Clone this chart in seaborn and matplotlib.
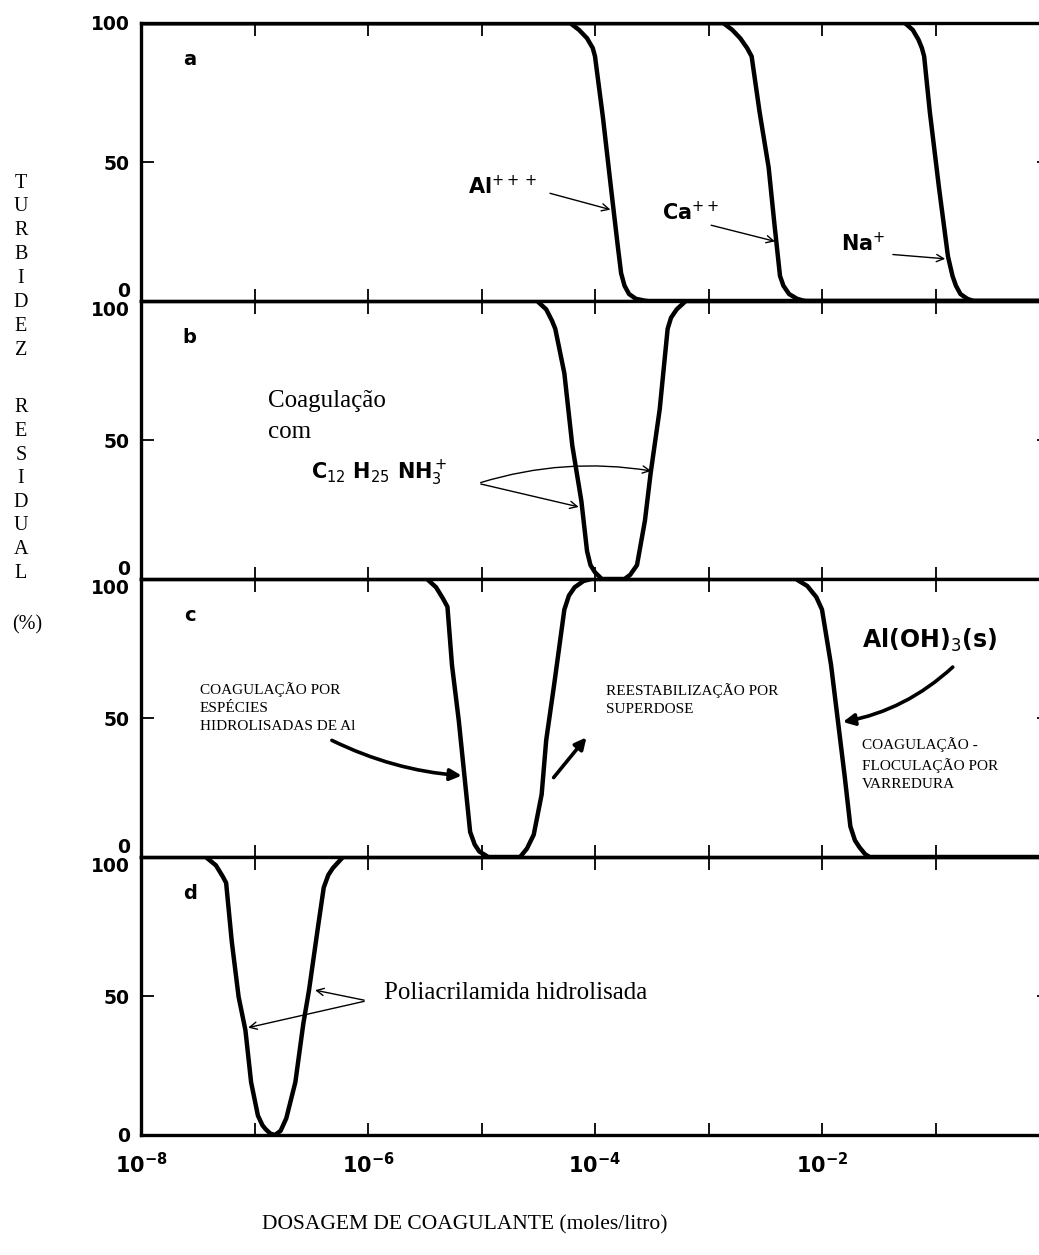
import numpy as np
import pandas as pd
import matplotlib
matplotlib.use("Agg")
import matplotlib.pyplot as plt
from matplotlib.ticker import FixedLocator, NullLocator
import seaborn as sns

# ---------------- data: log10(dose, mol/L) and residual turbidity (%) ----------------
# panel a
al_logx = [-8.0, -4.22, -4.14, -4.07, -4.02, -4.00, -3.93, -3.86, -3.80, -3.77, -3.74, -3.70, -3.64, -3.57, -3.53, 0.0]
al_y    = [100, 100, 97.5, 94.5, 91, 88, 66, 41, 20, 10, 5.5, 2.5, 0.8, 0.2, 0, 0]
ca_logx = [-8.0, -2.87, -2.79, -2.72, -2.66, -2.62, -2.55, -2.47, -2.42, -2.37, -2.34, -2.29, -2.22, -2.17, -2.14, 0.0]
ca_y    = [100, 100, 97.5, 94.5, 91, 88, 68, 48, 28, 9, 5.5, 2.5, 0.8, 0.2, 0, 0]
na_logx = [-8.0, -1.27, -1.20, -1.15, -1.12, -1.10, -1.05, -0.97, -0.89, -0.85, -0.82, -0.78, -0.72, -0.68, -0.66, 0.0]
na_y    = [100, 100, 97.5, 94, 91, 88, 68, 41, 16, 9, 5.5, 2.5, 0.8, 0.2, 0, 0]
# panel b
amine_logx = [-8.0, -4.51, -4.43, -4.38, -4.35, -4.27, -4.20, -4.12, -4.07, -4.04, -4.00, -3.94,
              -3.74, -3.69, -3.63, -3.56, -3.51, -3.43, -3.36, -3.33, -3.28, -3.20, 0.0]
amine_y    = [100, 100, 97, 93, 90, 74, 48, 28, 10, 5, 2.4, 0,
              0, 1.5, 5, 21, 38, 61, 90, 94, 97, 100, 100]
# panel c
aloh_logx = [-8.0, -5.48, -5.40, -5.34, -5.30, -5.26, -5.20, -5.15, -5.10, -5.06, -5.02, -4.94,
             -4.66, -4.60, -4.54, -4.47, -4.43, -4.36, -4.27, -4.23, -4.18, -4.10, -4.03,
             -2.23, -2.13, -2.05, -2.00, -1.92, -1.86, -1.80, -1.75, -1.71, -1.67, -1.62, -1.58, 0.0]
aloh_y    = [100, 100, 97, 93, 90, 69, 49, 29, 9, 4.5, 2, 0,
             0, 3, 8, 22.5, 42, 62, 89, 94, 97, 99.3, 100,
             100, 97.5, 93.5, 89, 69, 49, 29, 11, 6, 3.5, 1, 0, 0]
# panel d
poly_logx = [-8.0, -7.43, -7.34, -7.28, -7.25, -7.20, -7.14, -7.08, -7.03, -6.97, -6.93, -6.90, -6.86, -6.82,
             -6.77, -6.72, -6.64, -6.57, -6.52, -6.44, -6.39, -6.35, -6.31, -6.22, 0.0]
poly_y    = [100, 100, 97, 93, 90.7, 69.5, 49.7, 37.7, 19, 7, 3.5, 2, 0.5, 0,
             1.5, 6, 19, 40, 52, 75, 89, 93.5, 96, 100, 100]

xtick_exponents = [-8, -7, -6, -5, -4, -3, -2, -1, 0]
xtick_labels = [r"$\mathbf{10^{-8}}$", "", r"$\mathbf{10^{-6}}$", "", r"$\mathbf{10^{-4}}$", "",
                r"$\mathbf{10^{-2}}$", "", ""]
ytick_values = [0, 50, 100]
ytick_labels = ["0", "50", "100"]
panel_letters = ["a", "b", "c", "d"]
ylabel_word1 = list("TURBIDEZ")
ylabel_word2 = list("RESIDUAL")
ylabel_word3 = "(%)"
xlabel_text = "DOSAGEM DE COAGULANTE (moles/litro)"

def frame(logx, y, name):
    return pd.DataFrame({"dose": 10.0 ** np.asarray(logx, float), "turb": y, "curve": name})

panels = [
    [frame(al_logx, al_y, "Al"), frame(ca_logx, ca_y, "Ca"), frame(na_logx, na_y, "Na")],
    [frame(amine_logx, amine_y, "amine")],
    [frame(aloh_logx, aloh_y, "AlOH3")],
    [frame(poly_logx, poly_y, "poly")],
]

# ---------------- figure ----------------
sns.set_theme(style="ticks")
plt.rcParams["font.family"] = ["DejaVu Sans"]
plt.rcParams["mathtext.fontset"] = "dejavusans"
for k in ["text.color", "xtick.color", "ytick.color", "axes.edgecolor", "axes.labelcolor"]:
    plt.rcParams[k] = "black"

W, H = 1039, 1255
fig = plt.figure(figsize=(W / 100, H / 100), dpi=100)
gs = fig.add_gridspec(4, 1, left=141 / W, right=1049 / W, top=1 - 23 / H, bottom=1 - 1135 / H, hspace=0)
axes = [fig.add_subplot(gs[i]) for i in range(4)]

def X(e):
    return 10.0 ** e

serif = "Liberation Serif"
for i, ax in enumerate(axes):
    for df in panels[i]:
        sns.lineplot(data=df, x="dose", y="turb", ax=ax, color="black", lw=3.2,
                     estimator=None, sort=False, legend=False)
    ax.set_xscale("log")
    ax.set_xlim(X(-8), X(0))
    ax.set_ylim(0, 100)
    ax.xaxis.set_major_locator(FixedLocator([X(e) for e in xtick_exponents]))
    ax.xaxis.set_minor_locator(NullLocator())
    ax.set_yticks(ytick_values)
    ax.set_yticklabels(ytick_labels, fontsize=13.5, fontweight="bold")
    ax.tick_params(axis="both", which="both", direction="in", top=True, right=True,
                   length=9, width=1.3, color="black", pad=8)
    ax.tick_params(axis="x", pad=12)
    for s in ax.spines.values():
        s.set_linewidth(2.4)
        s.set_color("black")
    ax.set_xlabel("")
    ax.set_ylabel("")
    if i < 3:
        ax.tick_params(labelbottom=False)
    else:
        ax.set_xticklabels(xtick_labels, fontsize=15)
    ticks = ax.yaxis.get_major_ticks()
    if i < 3:
        ticks[0].label1.set_va("bottom")
    if i > 0:
        ticks[2].label1.set_va("top")
    ax.text(X(-7.57), 87, panel_letters[i], fontsize=14, fontweight="bold", ha="center", va="center")

thin = dict(arrowstyle="->", lw=1.0, color="black", mutation_scale=13)
thick = dict(arrowstyle="-|>", lw=2.6, color="black", mutation_scale=17)

# panel a annotations
ax = axes[0]
ax.text(X(-5.12), 38.5, r"Al$^{+++}$", fontsize=15, fontweight="bold", ha="left", va="baseline")
ax.annotate("", xy=(X(-3.84), 32.6), xytext=(X(-4.42), 39), arrowprops=thin)
ax.text(X(-3.41), 29.2, r"Ca$^{++}$", fontsize=15, fontweight="bold", ha="left", va="baseline")
ax.annotate("", xy=(X(-2.39), 21.2), xytext=(X(-3.0), 27.5), arrowprops=thin)
ax.text(X(-1.83), 17.8, r"Na$^{+}$", fontsize=15, fontweight="bold", ha="left", va="baseline")
ax.annotate("", xy=(X(-0.89), 15.1), xytext=(X(-1.40), 16.8), arrowprops=thin)

# panel b annotations
ax = axes[1]
ax.text(X(-6.88), 64, "Coagulação", family=serif, fontsize=18, ha="left", va="center")
ax.text(X(-6.88), 53, "com", family=serif, fontsize=18, ha="left", va="center")
ax.text(X(-6.50), 36, r"C$_{12}$ H$_{25}$ NH$_3^+$", fontsize=15, fontweight="bold", ha="left", va="baseline")
ax.annotate("", xy=(X(-4.12), 25.7), xytext=(X(-5.03), 34.4), arrowprops=thin)
ax.annotate("", xy=(X(-3.48), 38.7), xytext=(X(-5.03), 34.4),
            arrowprops=dict(thin, connectionstyle="arc3,rad=-0.12"))

# panel c annotations
ax = axes[2]
ax.text(X(-7.48), 63, "COAGULAÇÃO POR\nESPÉCIES\nHIDROLISADAS DE Al", family=serif, fontsize=11,
        ha="left", va="top", linespacing=1.5)
ax.annotate("", xy=(X(-5.15), 29.2), xytext=(X(-6.34), 42.4),
            arrowprops=dict(thick, connectionstyle="arc3,rad=0.1"))
ax.text(X(-3.90), 62.5, "REESTABILIZAÇÃO POR\nSUPERDOSE", family=serif, fontsize=11,
        ha="left", va="top", linespacing=1.5)
ax.annotate("", xy=(X(-4.06), 43.8), xytext=(X(-4.38), 27.8), arrowprops=thick)
ax.text(X(-1.65), 78, r"Al(OH)$_3$(s)", fontsize=17, fontweight="bold", ha="left", va="center")
ax.annotate("", xy=(X(-1.84), 48.4), xytext=(X(-0.83), 69),
            arrowprops=dict(thick, connectionstyle="arc3,rad=-0.15"))
ax.text(X(-1.65), 43, "COAGULAÇÃO -\nFLOCULAÇÃO POR\nVARREDURA", family=serif, fontsize=11,
        ha="left", va="top", linespacing=1.5)

# panel d annotations
ax = axes[3]
ax.text(X(-5.86), 51, "Poliacrilamida hidrolisada", family=serif, fontsize=18, ha="left", va="center")
ax.annotate("", xy=(X(-7.08), 38.4), xytext=(X(-6.01), 48.3), arrowprops=thin)
ax.annotate("", xy=(X(-6.49), 52.3), xytext=(X(-6.01), 48.3), arrowprops=thin)

# vertical y label (stacked letters)
y0 = 183
for k, ch in enumerate(ylabel_word1):
    fig.text(21 / W, 1 - (y0 + k * 23.9) / H, ch, family=serif, fontsize=14.5, ha="center", va="center")
y0 = 408
for k, ch in enumerate(ylabel_word2):
    fig.text(21 / W, 1 - (y0 + k * 23.6) / H, ch, family=serif, fontsize=14.5, ha="center", va="center")
fig.text(27 / W, 1 - 625 / H, ylabel_word3, family=serif, fontsize=14.5, ha="center", va="center")

fig.text(465 / W, 1 - 1225 / H, xlabel_text, family=serif, fontsize=15.5, ha="center", va="center")

fig.savefig("out.png", dpi=100)
